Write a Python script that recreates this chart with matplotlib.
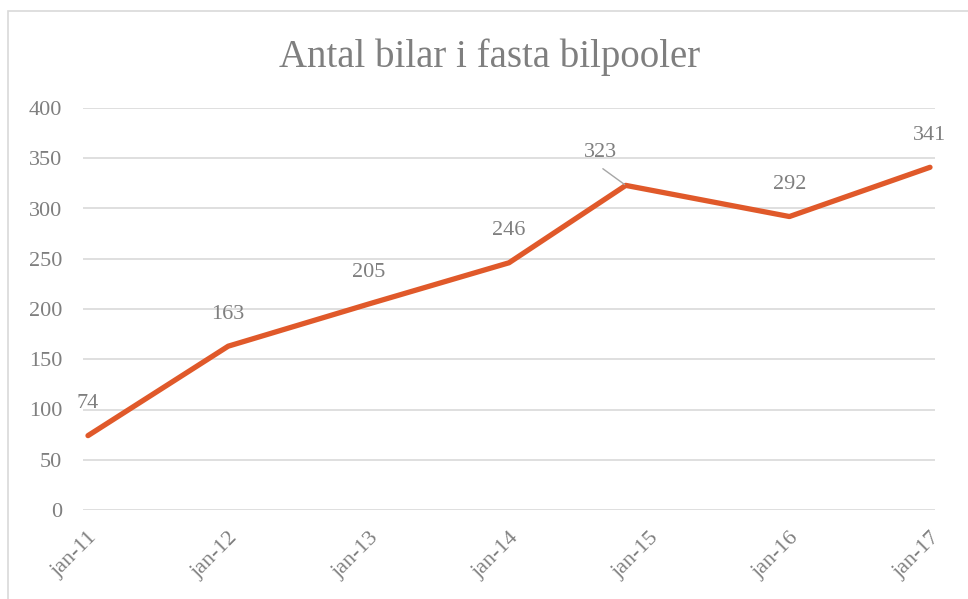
import matplotlib
matplotlib.use("Agg")
import matplotlib.pyplot as plt
import matplotlib.dates as mdates
from matplotlib.patches import Rectangle
import datetime as dt

# data: observation dates and values (one observation falls in Nov 2014)
dates = ["2011-01-01", "2012-01-01", "2013-01-01", "2014-01-01", "2014-11-01", "2016-01-01", "2017-01-01"]
values = [74, 163, 205, 246, 323, 292, 341]
tick_dates = ["2011-01-01", "2012-01-01", "2013-01-01", "2014-01-01", "2015-01-01", "2016-01-01", "2017-01-01"]
tick_labels = ["jan-11", "jan-12", "jan-13", "jan-14", "jan-15", "jan-16", "jan-17"]
yticks = [0, 50, 100, 150, 200, 250, 300, 350, 400]
title = "Antal bilar i fasta bilpooler"

plt.rcParams['font.family'] = ['Liberation Serif', 'DejaVu Serif']
TXT = '#7f7f7f'
LINE = '#E0592A'
GRID = '#d9d9d9'

def d(s):
    return mdates.date2num(dt.datetime.strptime(s, "%Y-%m-%d"))

W, H = 968, 599
fig = plt.figure(figsize=(W/100, H/100), dpi=100)
fig.patch.set_facecolor('white')
# chart border
fig.patches.append(Rectangle((8/W, -0.1), 1.1, 1 - 11/H + 0.1, transform=fig.transFigure,
                             fill=False, edgecolor=GRID, linewidth=1.2))

ax = fig.add_axes([83/W, 1 - 510/H, (935-83)/W, (510-108)/H])
x = [d(s) for s in dates]
ax.plot(x, values, color=LINE, linewidth=3.8, solid_capstyle='round', zorder=3)
ax.set_xlim(d(tick_dates[0]) - 13, d(tick_dates[-1]) + 13)
ax.set_ylim(0, 400)
ax.set_yticks(yticks)
ax.set_yticklabels([str(v) for v in yticks])
ax.set_xticks([d(s) for s in tick_dates])
ax.set_xticklabels(tick_labels, rotation=45, ha='right', va='top', rotation_mode='anchor')
ax.grid(axis='y', color=GRID, linewidth=1.2)
ax.grid(axis='x', visible=False)
ax.set_axisbelow(True)
for s in ax.spines.values():
    s.set_visible(False)
ax.tick_params(axis='both', length=0, labelcolor=TXT, labelsize=16)
ax.tick_params(axis='y', pad=15)
ax.tick_params(axis='x', pad=13)

for xi, v in zip(x, values):
    if v == 323:
        ax.annotate(str(v), xy=(xi, v), xytext=(-18, 24), textcoords='offset points',
                    ha='center', va='center', color=TXT, fontsize=16)
        ax.annotate("", xy=(xi, v), xytext=(-16.5, 12), textcoords='offset points',
                    arrowprops=dict(arrowstyle='-', color='#a6a6a6', lw=1.0,
                                    shrinkA=0, shrinkB=1))
    else:
        ax.annotate(str(v), xy=(xi, v), xytext=(0, 23), textcoords='offset points',
                    ha='center', va='center', color=TXT, fontsize=16)

fig.text(490/W, 1 - 57/H, title, ha='center', va='center', color=TXT, fontsize=28)

fig.savefig("out.png", dpi=100)
